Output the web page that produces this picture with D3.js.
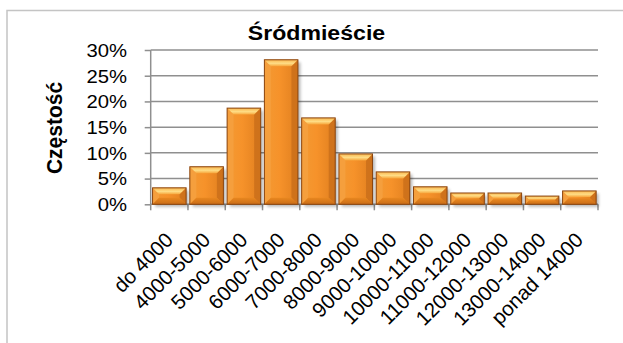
<!DOCTYPE html>
<html>
<head>
<meta charset="utf-8">
<script src="https://cdn.jsdelivr.net/npm/d3@7"></script>
<style>
  html, body { margin: 0; padding: 0; background: #fff; }
  svg { display: block; }
  text { font-family: "Liberation Sans", Arial, sans-serif; fill: #000; }
</style>
</head>
<body>
<svg id="chart" width="623" height="343"></svg>
<script>
// Udział mieszkań wg przedziału ceny za m² – Śródmieście
const categories = ["do 4000", "4000-5000", "5000-6000", "6000-7000", "7000-8000", "8000-9000",
                    "9000-10000", "10000-11000", "11000-12000", "12000-13000", "13000-14000", "ponad 14000"];
const shares = [3.2, 7.3, 18.7, 28.1, 16.8, 9.8, 6.3, 3.4, 2.2, 2.2, 1.6, 2.6];
const yTicks = [0, 5, 10, 15, 20, 25, 30];
const chartTitle = "Śródmieście";
const yTitle = "Częstość";

const svg = d3.select("#chart");
const W = 623, H = 343;
const plot = { left: 150.7, right: 598, top: 50, bottom: 204.3 };

const x = d3.scaleBand().domain(categories)
  .range([plot.left, plot.right]).paddingInner(0.1).paddingOuter(0.05);
const y = d3.scaleLinear().domain([0, 30]).range([plot.bottom, plot.top]);

const defs = svg.append("defs");

// Body gradient (left to right)
const gBody = defs.append("linearGradient").attr("id", "gBody").attr("x1", 0).attr("x2", 1).attr("y1", 0).attr("y2", 0);
gBody.append("stop").attr("offset", "0%").attr("stop-color", "#f39a33");
gBody.append("stop").attr("offset", "45%").attr("stop-color", "#f6922a");
gBody.append("stop").attr("offset", "100%").attr("stop-color", "#e07f1f");

// Top bevel gradient
const gTop = defs.append("linearGradient").attr("id", "gTop").attr("x1", 0).attr("x2", 0).attr("y1", 0).attr("y2", 1);
gTop.append("stop").attr("offset", "0%").attr("stop-color", "#fbb64e");
gTop.append("stop").attr("offset", "55%").attr("stop-color", "#fedd86");
gTop.append("stop").attr("offset", "100%").attr("stop-color", "#f7a63c");

// Bottom bevel gradient
const gBot = defs.append("linearGradient").attr("id", "gBot").attr("x1", 0).attr("x2", 0).attr("y1", 0).attr("y2", 1);
gBot.append("stop").attr("offset", "0%").attr("stop-color", "#e8871f");
gBot.append("stop").attr("offset", "100%").attr("stop-color", "#c96c17");

const shadowBlur = defs.append("filter").attr("id", "soft").attr("x", "-20%").attr("y", "-20%").attr("width", "140%").attr("height", "140%");
shadowBlur.append("feGaussianBlur").attr("stdDeviation", 1.6);

const gridShadow = defs.append("filter").attr("id", "gsoft").attr("x", "-5%").attr("y", "-200%").attr("width", "110%").attr("height", "500%");
gridShadow.append("feGaussianBlur").attr("stdDeviation", 0.9);

// Chart frame
svg.append("rect")
  .attr("x", 7).attr("y", 10.5).attr("width", W + 20).attr("height", H + 20)
  .attr("fill", "#fff").attr("stroke", "#c4c4c4").attr("stroke-width", 1.5);

// Gridlines with a faint shadow beneath
const grid = svg.append("g");
grid.selectAll("line.gs").data(yTicks.slice(1)).join("line")
  .attr("class", "gs")
  .attr("x1", plot.left).attr("x2", plot.right)
  .attr("y1", d => y(d) + 2).attr("y2", d => y(d) + 2)
  .attr("stroke", "#d0d0d0").attr("stroke-width", 1.5).attr("filter", "url(#gsoft)");
grid.selectAll("line.g").data(yTicks.slice(1)).join("line")
  .attr("class", "g")
  .attr("x1", plot.left).attr("x2", plot.right)
  .attr("y1", d => y(d)).attr("y2", d => y(d))
  .attr("stroke", "#8f8f8f").attr("stroke-width", 1.5);

// Y axis
const yAxis = svg.append("g").attr("transform", `translate(${plot.left},0)`)
  .call(d3.axisLeft(y).tickValues(yTicks).tickSize(6).tickPadding(0).tickFormat(d => d + "%"));
yAxis.select(".domain").attr("stroke", "#8f8f8f").attr("stroke-width", 1.5).attr("d", `M0,${plot.top}V${plot.bottom}`);
yAxis.selectAll(".tick line").attr("stroke", "#8f8f8f").attr("stroke-width", 1.5);
yAxis.selectAll(".tick text").remove();
yAxis.selectAll(".tick").append("text")
  .attr("text-anchor", "end")
  .attr("dy", "0.36em")
  .attr("transform", "translate(-23.7,0) scale(1.14,1)")
  .attr("font-size", 17.8)
  .text(d => d + "%");

// X axis
const xAxisG = svg.append("g").attr("transform", `translate(0,${plot.bottom})`);
xAxisG.append("line").attr("x1", plot.left).attr("x2", plot.right).attr("y1", 0).attr("y2", 0)
  .attr("stroke", "#8f8f8f").attr("stroke-width", 1.5);
const bounds = categories.map(c => x(c) - x.step() * x.paddingInner() / 2);
bounds.push(plot.right);
xAxisG.selectAll("line.t").data(bounds).join("line").attr("class", "t")
  .attr("x1", d => d).attr("x2", d => d).attr("y1", 0).attr("y2", 6)
  .attr("stroke", "#8f8f8f").attr("stroke-width", 1.5);

// Bars with bevelled faces
const bw = x.bandwidth();
const bars = svg.append("g").selectAll("g").data(categories.map((c, i) => ({ c, v: shares[i] }))).join("g");

bars.append("rect")
  .attr("x", d => x(d.c) + 2.5).attr("y", d => y(d.v) + 2.5)
  .attr("width", bw).attr("height", d => plot.bottom - y(d.v))
  .attr("fill", "#000").attr("opacity", 0.28).attr("filter", "url(#soft)");

bars.append("rect")
  .attr("x", d => x(d.c)).attr("y", d => y(d.v))
  .attr("width", bw).attr("height", d => plot.bottom - y(d.v))
  .attr("fill", "url(#gBody)");

function bevel(d) {
  const x0 = x(d.c), x1 = x0 + bw, y0 = y(d.v), y1 = plot.bottom;
  const h = y1 - y0;
  const b = Math.min(6.5, h / 2.2);
  return { x0, x1, y0, y1, b };
}
// left face
bars.append("path").attr("d", d => { const k = bevel(d);
  return `M${k.x0},${k.y0}L${k.x0 + k.b},${k.y0 + k.b}L${k.x0 + k.b},${k.y1 - k.b}L${k.x0},${k.y1}Z`; })
  .attr("fill", "#f5a040").attr("opacity", 0.85);
// right face
bars.append("path").attr("d", d => { const k = bevel(d);
  return `M${k.x1},${k.y0}L${k.x1 - k.b},${k.y0 + k.b}L${k.x1 - k.b},${k.y1 - k.b}L${k.x1},${k.y1}Z`; })
  .attr("fill", "#c96e1a").attr("opacity", 0.8);
// bottom face
bars.append("path").attr("d", d => { const k = bevel(d);
  return `M${k.x0},${k.y1}L${k.x0 + k.b},${k.y1 - k.b}L${k.x1 - k.b},${k.y1 - k.b}L${k.x1},${k.y1}Z`; })
  .attr("fill", "url(#gBot)");
// top face
bars.append("path").attr("d", d => { const k = bevel(d);
  return `M${k.x0},${k.y0}L${k.x1},${k.y0}L${k.x1 - k.b},${k.y0 + k.b}L${k.x0 + k.b},${k.y0 + k.b}Z`; })
  .attr("fill", "url(#gTop)");
// outline
bars.append("rect")
  .attr("x", d => x(d.c)).attr("y", d => y(d.v))
  .attr("width", bw).attr("height", d => plot.bottom - y(d.v))
  .attr("fill", "none").attr("stroke", "#8a4510").attr("stroke-width", 1);

// Category labels
svg.append("g").selectAll("text").data(categories).join("text")
  .attr("text-anchor", "end")
  .attr("font-size", 20.5)
  .attr("transform", d => `translate(${x(d) + bw / 2 + 5},${plot.bottom + 37}) rotate(-45)`)
  .text(d => d);

// Title
svg.append("text")
  .attr("text-anchor", "middle")
  .attr("font-weight", "bold")
  .attr("font-size", 21)
  .attr("transform", "translate(316.5,40) scale(1.1,1)")
  .text(chartTitle);

// Y axis title
svg.append("text")
  .attr("text-anchor", "middle")
  .attr("font-weight", "bold")
  .attr("font-size", 20)
  .attr("transform", "translate(62,128) rotate(-90) scale(1.05,1.1)")
  .text(yTitle);
</script>
</body>
</html>
